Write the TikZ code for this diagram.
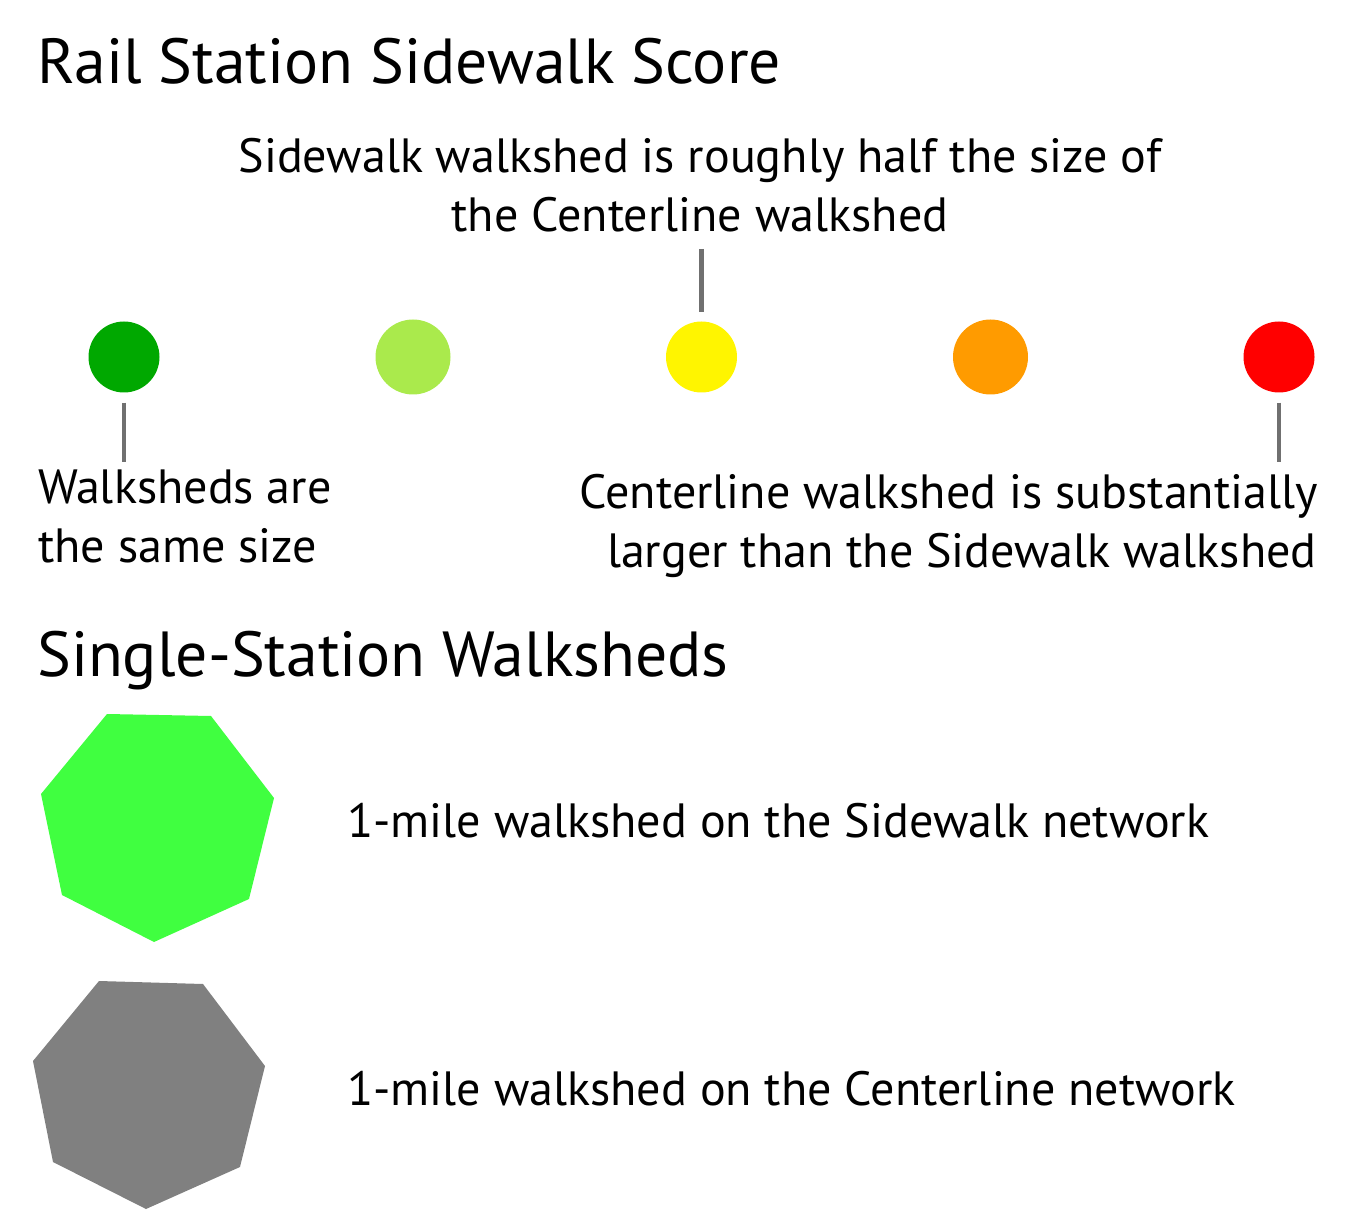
\documentclass[tikz,border=0pt]{standalone}
\usepackage{fontspec}
\setmainfont{PT Sans}
\definecolor{cdkgreen}{HTML}{00A800}
\definecolor{cltgreen}{HTML}{AAEA4C}
\definecolor{cyellow}{HTML}{FFF500}
\definecolor{corange}{HTML}{FF9B00}
\definecolor{cred}{HTML}{FF0000}
\definecolor{cbright}{HTML}{40FF40}
\definecolor{cgrayfill}{HTML}{808080}
\definecolor{cleader}{HTML}{707070}
\tikzset{
  titletext/.style={inner sep=0pt, font=\fontsize{63.7}{72}\selectfont},
  bodytext/.style={inner sep=0pt, font=\fontsize{48.1}{58}\selectfont},
  dot/.style={circle, inner sep=0pt, draw=none},
  leader/.style={draw=cleader, line width=4.2pt},
  walkshed/.style={draw=none}
}
\begin{document}
\begin{tikzpicture}[x=1pt,y=-1pt]
\useasboundingbox (0,0) rectangle (1363,1230);
% titles
\node[titletext, anchor=base west] (t1) at (37,84) {Rail Station Sidewalk Score};
\node[titletext, anchor=base west] (t2) at (37,676) {Single-Station Walksheds};
% score dots
\node[dot, fill=cdkgreen, minimum size=71pt] (c1) at (124,357) {};
\node[dot, fill=cltgreen, minimum size=75pt] (c2) at (413,357) {};
\node[dot, fill=cyellow, minimum size=71pt] (c3) at (701.5,357) {};
\node[dot, fill=corange, minimum size=75pt] (c4) at (990.5,357) {};
\node[dot, fill=cred, minimum size=71pt] (c5) at (1279,357) {};
% labels
\node[bodytext, anchor=base] (m1) at (700,173) {Sidewalk walkshed is roughly half the size of};
\node[bodytext, anchor=base] (m2) at (700,232) {the Centerline walkshed};
\node[bodytext, anchor=base west] (l1) at (38,503) {Walksheds are};
\node[bodytext, anchor=base west] (l2) at (38,562) {the same size};
\node[bodytext, anchor=base east] (r1) at (1318,508) {Centerline walkshed is substantially};
\node[bodytext, anchor=base east] (r2) at (1317,567) {larger than the Sidewalk walkshed};
% leaders
\draw[leader, shorten <=16pt, shorten >=9pt] (c3.north |- m2.south) -- (c3.north);
\draw[leader, shorten <=10pt] (c1.south) -- (c1.south |- 0,462);
\draw[leader, shorten <=10pt] (c5.south) -- (c5.south |- 0,462);
% walksheds
\fill[cbright] (107,714) -- (211,716) -- (274,798) -- (249,899) -- (154,942) -- (62,895) -- (41,794) -- cycle;
\fill[cgrayfill] (99,981) -- (203,984) -- (265,1066) -- (240,1167) -- (146,1209) -- (53,1162) -- (33,1061) -- cycle;
\node[bodytext, anchor=base west] (s1) at (347,837) {1-mile walkshed on the Sidewalk network};
\node[bodytext, anchor=base west] (s2) at (347,1105) {1-mile walkshed on the Centerline network};
\end{tikzpicture}
\end{document}
